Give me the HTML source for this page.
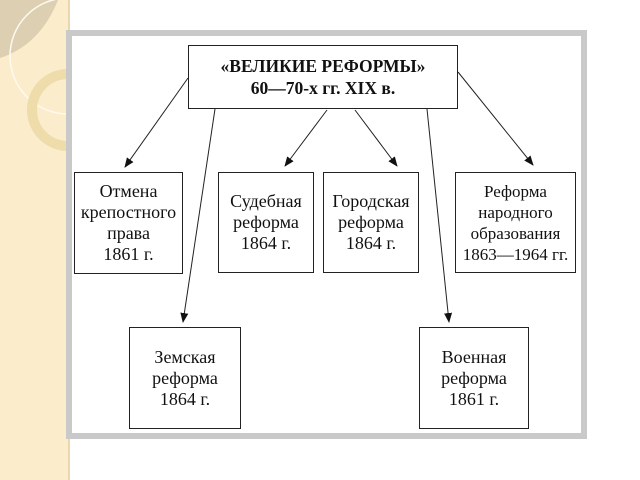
<!DOCTYPE html>
<html><head><meta charset="utf-8"><style>
body{margin:0;width:640px;height:480px;background:#fff;position:relative;overflow:hidden;font-family:"Liberation Serif",serif;}
.strip{position:absolute;left:0;top:0;width:68px;height:480px;background:#fbeccb;border-right:2px solid #e8d7b0;}
.frame{position:absolute;left:66px;top:30px;width:509px;height:397px;border:6px solid #c9c9c9;background:#fff;}
.b{position:absolute;border:1.3px solid #222;box-sizing:border-box;display:flex;align-items:center;justify-content:center;text-align:center;font-size:18px;line-height:21px;color:#111;}
</style></head><body>
<div class="strip">
<svg width="68" height="480" style="position:absolute;left:0;top:0">
<path d="M0 0 H58 Q40 45 0 58 Z" fill="#dccfb2"/>
<circle cx="68" cy="56" r="58" fill="none" stroke="#fffaf0" stroke-width="1.5"/>
<circle cx="68" cy="110" r="36" fill="none" stroke="#eedcaa" stroke-width="10"/>
</svg>
</div>
<div class="frame"></div>
<div class="b" style="left:188px;top:45px;width:270px;height:64px;font-weight:bold;font-size:17.5px;line-height:22px;">«ВЕЛИКИЕ РЕФОРМЫ»<br>60—70-х гг. XIX в.</div>
<div class="b" style="left:74px;top:172px;width:109px;height:102px;">Отмена<br>крепостного<br>права<br>1861 г.</div>
<div class="b" style="left:218px;top:172px;width:96px;height:101px;">Судебная<br>реформа<br>1864 г.</div>
<div class="b" style="left:323px;top:172px;width:96px;height:101px;">Городская<br>реформа<br>1864 г.</div>
<div class="b" style="left:455px;top:172px;width:121px;height:101px;font-size:17px;">Реформа<br>народного<br>образования<br>1863—1964 гг.</div>
<div class="b" style="left:129px;top:327px;width:112px;height:102px;">Земская<br>реформа<br>1864 г.</div>
<div class="b" style="left:419px;top:327px;width:110px;height:102px;">Военная<br>реформа<br>1861 г.</div>
<svg width="640" height="480" style="position:absolute;left:0;top:0">
<defs><marker id="a" markerWidth="10" markerHeight="10" refX="9" refY="5" orient="auto" markerUnits="userSpaceOnUse"><path d="M0 1 L10 5 L0 9 Z" fill="#111"/></marker></defs>
<g stroke="#222" stroke-width="1" marker-end="url(#a)">
<line x1="188" y1="78" x2="125" y2="167"/>
<line x1="215" y1="109" x2="183" y2="322"/>
<line x1="327" y1="110" x2="285" y2="166"/>
<line x1="355" y1="110" x2="397" y2="166"/>
<line x1="427" y1="109" x2="449" y2="322"/>
<line x1="458" y1="72" x2="533" y2="165"/>
</g></svg>
</body></html>
